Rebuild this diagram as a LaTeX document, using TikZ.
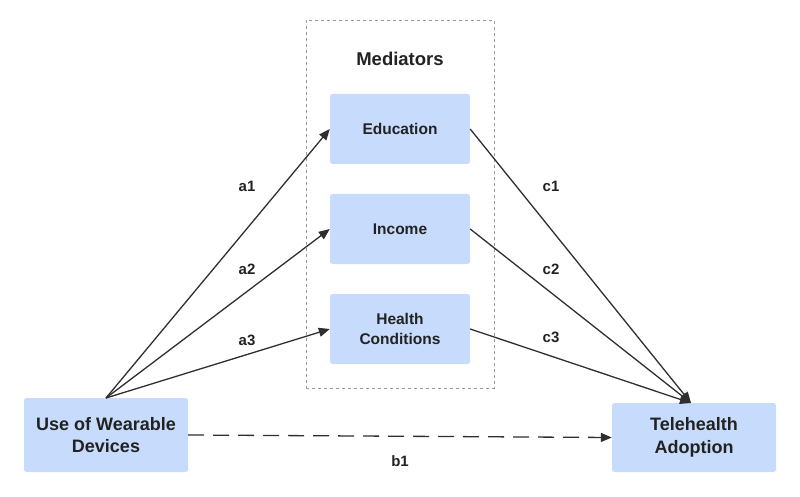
\documentclass[tikz,border=0pt]{standalone}
\usepackage{fontspec}
\setmainfont{Liberation Sans}
\usetikzlibrary{arrows.meta}
\definecolor{boxblue}{HTML}{C7DCFC}
\definecolor{ink}{HTML}{222222}
\definecolor{edge}{HTML}{2E2E33}
\tikzset{
  medbox/.style={fill=boxblue, rounded corners=2.5pt, minimum width=140pt, minimum height=70pt, align=center, font=\bfseries\fontsize{15.5}{20}\selectfont, text=ink, inner sep=0pt},
  endbox/.style={fill=boxblue, rounded corners=2.5pt, minimum width=164pt, align=center, font=\bfseries\fontsize{18}{22.5}\selectfont, text=ink, inner sep=0pt},
  conn/.style={draw=edge, line width=1.3pt, -{Triangle[length=11pt,width=9pt]}},
  lbl/.style={font=\bfseries\fontsize{15}{17}\selectfont, text=ink},
}
\begin{document}
\begin{tikzpicture}[x=1pt,y=-1pt]
\useasboundingbox (0,0) rectangle (800,497);
\node[draw=gray!80, dashed, line width=0.8pt, minimum width=188pt, minimum height=368pt, inner sep=0pt] (frame) at (400,204) {};
\node[font=\bfseries\fontsize{18.5}{20}\selectfont, text=ink] (title) at (400,59) {Mediators};
\node[medbox] (edu) at (400,129) {Education};
\node[medbox] (inc) at (400,229) {Income};
\node[medbox] (hea) at (400,329) {Health\\Conditions};
\node[endbox, minimum height=74pt] (wear) at (106,435) {Use of Wearable\\Devices};
\node[endbox, minimum height=69pt] (tele) at (694,437.5) {Telehealth\\Adoption};
\coordinate (wtop) at (106,398);
\coordinate (ttop) at (691,403);
\draw[conn] (wtop) -- (edu.west);
\draw[conn] (wtop) -- (inc.west);
\draw[conn] (wtop) -- (hea.west);
\draw[conn] (edu.east) -- (ttop);
\draw[conn] (inc.east) -- (ttop);
\draw[conn] (hea.east) -- (ttop);
\draw[conn, dash pattern=on 16pt off 9pt] (wear.east) -- (tele.west);
\node[lbl] (a1) at (247,186) {a1};
\node[lbl] (a2) at (247,269) {a2};
\node[lbl] (a3) at (247,340) {a3};
\node[lbl] (c1) at (551,186) {c1};
\node[lbl] (c2) at (551,269) {c2};
\node[lbl] (c3) at (551,337) {c3};
\node[lbl] (b1) at (400,461) {b1};
\end{tikzpicture}
\end{document}
